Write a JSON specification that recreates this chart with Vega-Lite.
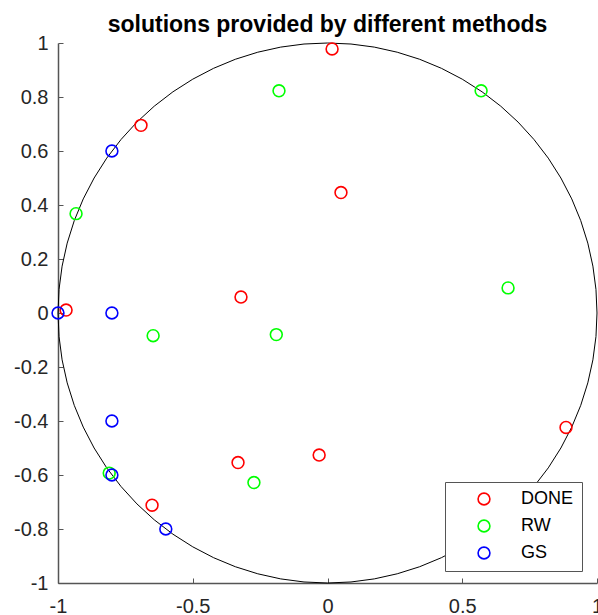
{
  "$schema": "https://vega.github.io/schema/vega-lite/v6.json",
  "autosize": "none",
  "width": 539,
  "height": 540,
  "padding": {"left": 58, "top": 43, "right": 1, "bottom": 32},
  "background": "white",
  "config": {
    "view": {"stroke": null},
    "font": "Liberation Sans"
  },
  "title": {
    "text": "solutions provided by different methods",
    "fontSize": 23,
    "fontWeight": "bold",
    "font": "Liberation Sans",
    "color": "#000000",
    "anchor": "middle",
    "offset": -4
  },
  "datasets": {
    "circle": [
      {"o": 0, "cx": 1, "cy": 0},
      {"o": 1, "cx": 0.9962, "cy": 0.0872},
      {"o": 2, "cx": 0.9848, "cy": 0.1736},
      {"o": 3, "cx": 0.9659, "cy": 0.2588},
      {"o": 4, "cx": 0.9397, "cy": 0.342},
      {"o": 5, "cx": 0.9063, "cy": 0.4226},
      {"o": 6, "cx": 0.866, "cy": 0.5},
      {"o": 7, "cx": 0.8192, "cy": 0.5736},
      {"o": 8, "cx": 0.766, "cy": 0.6428},
      {"o": 9, "cx": 0.7071, "cy": 0.7071},
      {"o": 10, "cx": 0.6428, "cy": 0.766},
      {"o": 11, "cx": 0.5736, "cy": 0.8192},
      {"o": 12, "cx": 0.5, "cy": 0.866},
      {"o": 13, "cx": 0.4226, "cy": 0.9063},
      {"o": 14, "cx": 0.342, "cy": 0.9397},
      {"o": 15, "cx": 0.2588, "cy": 0.9659},
      {"o": 16, "cx": 0.1736, "cy": 0.9848},
      {"o": 17, "cx": 0.0872, "cy": 0.9962},
      {"o": 18, "cx": 0, "cy": 1},
      {"o": 19, "cx": -0.0872, "cy": 0.9962},
      {"o": 20, "cx": -0.1736, "cy": 0.9848},
      {"o": 21, "cx": -0.2588, "cy": 0.9659},
      {"o": 22, "cx": -0.342, "cy": 0.9397},
      {"o": 23, "cx": -0.4226, "cy": 0.9063},
      {"o": 24, "cx": -0.5, "cy": 0.866},
      {"o": 25, "cx": -0.5736, "cy": 0.8192},
      {"o": 26, "cx": -0.6428, "cy": 0.766},
      {"o": 27, "cx": -0.7071, "cy": 0.7071},
      {"o": 28, "cx": -0.766, "cy": 0.6428},
      {"o": 29, "cx": -0.8192, "cy": 0.5736},
      {"o": 30, "cx": -0.866, "cy": 0.5},
      {"o": 31, "cx": -0.9063, "cy": 0.4226},
      {"o": 32, "cx": -0.9397, "cy": 0.342},
      {"o": 33, "cx": -0.9659, "cy": 0.2588},
      {"o": 34, "cx": -0.9848, "cy": 0.1736},
      {"o": 35, "cx": -0.9962, "cy": 0.0872},
      {"o": 36, "cx": -1, "cy": 0},
      {"o": 37, "cx": -0.9962, "cy": -0.0872},
      {"o": 38, "cx": -0.9848, "cy": -0.1736},
      {"o": 39, "cx": -0.9659, "cy": -0.2588},
      {"o": 40, "cx": -0.9397, "cy": -0.342},
      {"o": 41, "cx": -0.9063, "cy": -0.4226},
      {"o": 42, "cx": -0.866, "cy": -0.5},
      {"o": 43, "cx": -0.8192, "cy": -0.5736},
      {"o": 44, "cx": -0.766, "cy": -0.6428},
      {"o": 45, "cx": -0.7071, "cy": -0.7071},
      {"o": 46, "cx": -0.6428, "cy": -0.766},
      {"o": 47, "cx": -0.5736, "cy": -0.8192},
      {"o": 48, "cx": -0.5, "cy": -0.866},
      {"o": 49, "cx": -0.4226, "cy": -0.9063},
      {"o": 50, "cx": -0.342, "cy": -0.9397},
      {"o": 51, "cx": -0.2588, "cy": -0.9659},
      {"o": 52, "cx": -0.1736, "cy": -0.9848},
      {"o": 53, "cx": -0.0872, "cy": -0.9962},
      {"o": 54, "cx": 0, "cy": -1},
      {"o": 55, "cx": 0.0872, "cy": -0.9962},
      {"o": 56, "cx": 0.1736, "cy": -0.9848},
      {"o": 57, "cx": 0.2588, "cy": -0.9659},
      {"o": 58, "cx": 0.342, "cy": -0.9397},
      {"o": 59, "cx": 0.4226, "cy": -0.9063},
      {"o": 60, "cx": 0.5, "cy": -0.866},
      {"o": 61, "cx": 0.5736, "cy": -0.8192},
      {"o": 62, "cx": 0.6428, "cy": -0.766},
      {"o": 63, "cx": 0.7071, "cy": -0.7071},
      {"o": 64, "cx": 0.766, "cy": -0.6428},
      {"o": 65, "cx": 0.8192, "cy": -0.5736},
      {"o": 66, "cx": 0.866, "cy": -0.5},
      {"o": 67, "cx": 0.9063, "cy": -0.4226},
      {"o": 68, "cx": 0.9397, "cy": -0.342},
      {"o": 69, "cx": 0.9659, "cy": -0.2588},
      {"o": 70, "cx": 0.9848, "cy": -0.1736},
      {"o": 71, "cx": 0.9962, "cy": -0.0872},
      {"o": 72, "cx": 1, "cy": 0}
    ],
    "pts": [
      {"method": "DONE", "x": 0.017, "y": 0.978},
      {"method": "DONE", "x": -0.692, "y": 0.695},
      {"method": "DONE", "x": 0.05, "y": 0.446},
      {"method": "DONE", "x": -0.321, "y": 0.059},
      {"method": "DONE", "x": -0.97, "y": 0.011},
      {"method": "DONE", "x": 0.885, "y": -0.424},
      {"method": "DONE", "x": -0.332, "y": -0.554},
      {"method": "DONE", "x": -0.031, "y": -0.526},
      {"method": "DONE", "x": -0.651, "y": -0.712},
      {"method": "RW", "x": -0.18, "y": 0.823},
      {"method": "RW", "x": 0.57, "y": 0.823},
      {"method": "RW", "x": -0.933, "y": 0.368},
      {"method": "RW", "x": 0.67, "y": 0.093},
      {"method": "RW", "x": -0.647, "y": -0.084},
      {"method": "RW", "x": -0.19, "y": -0.08},
      {"method": "RW", "x": -0.81, "y": -0.593},
      {"method": "RW", "x": -0.273, "y": -0.628},
      {"method": "GS", "x": -0.8, "y": 0.6},
      {"method": "GS", "x": -1, "y": 0},
      {"method": "GS", "x": -0.8, "y": 0},
      {"method": "GS", "x": -0.8, "y": -0.4},
      {"method": "GS", "x": -0.8, "y": -0.6},
      {"method": "GS", "x": -0.6, "y": -0.8}
    ]
  },
  "layer": [
    {
      "data": {"name": "circle"},
      "mark": {"type": "line", "color": "#000000", "strokeWidth": 1, "clip": false},
      "encoding": {
        "x": {"field": "cx", "type": "quantitative", "scale": {"domain": [-1, 1], "nice": false, "zero": false}},
        "y": {"field": "cy", "type": "quantitative", "scale": {"domain": [-1, 1], "nice": false, "zero": false}},
        "order": {"field": "o", "type": "quantitative"}
      }
    },
    {
      "data": {"name": "pts"},
      "mark": {"type": "point", "shape": "circle", "filled": false, "size": 140, "strokeWidth": 1.6, "opacity": 1, "clip": false},
      "encoding": {
        "x": {
          "field": "x", "type": "quantitative",
          "scale": {"domain": [-1, 1], "nice": false, "zero": false},
          "axis": {
            "title": null,
            "values": [-1, -0.5, 0, 0.5, 1],
            "format": "~g",
            "labelExpr": "replace(datum.label, '−', '-')",
            "grid": false,
            "domainColor": "#555555",
            "domainWidth": 1.5,
            "tickColor": "#555555",
            "tickSize": -5,
            "labelPadding": 18,
            "labelFontSize": 20,
            "labelColor": "#262626",
            "labelFont": "Liberation Sans",
            "labelFlush": false
          }
        },
        "y": {
          "field": "y", "type": "quantitative",
          "scale": {"domain": [-1, 1], "nice": false, "zero": false},
          "axis": {
            "title": null,
            "values": [-1, -0.8, -0.6, -0.4, -0.2, 0, 0.2, 0.4, 0.6, 0.8, 1],
            "format": "~g",
            "labelExpr": "replace(datum.label, '−', '-')",
            "grid": false,
            "domainColor": "#555555",
            "domainWidth": 1.5,
            "tickColor": "#555555",
            "tickSize": -5,
            "labelPadding": 15,
            "labelFontSize": 20,
            "labelColor": "#262626",
            "labelFont": "Liberation Sans",
            "labelFlush": false
          }
        },
        "color": {
          "field": "method", "type": "nominal",
          "scale": {"domain": ["DONE", "RW", "GS"], "range": ["#ff0000", "#00ff00", "#0000ff"]},
          "legend": {
            "title": null,
            "orient": "none",
            "legendX": 387,
            "legendY": 439,
            "strokeColor": "#555555",
            "fillColor": "#ffffff",
            "padding": 8,
            "symbolOffset": 22,
            "symbolType": "circle",
            "symbolSize": 140,
            "symbolStrokeWidth": 1.6,
            "symbolFillColor": "transparent",
            "labelFontSize": 18,
            "labelFont": "Liberation Sans",
            "labelColor": "#000000",
            "labelOffset": 28,
            "rowPadding": 7,
            "labelLimit": 200
          }
        }
      }
    }
  ]
}
